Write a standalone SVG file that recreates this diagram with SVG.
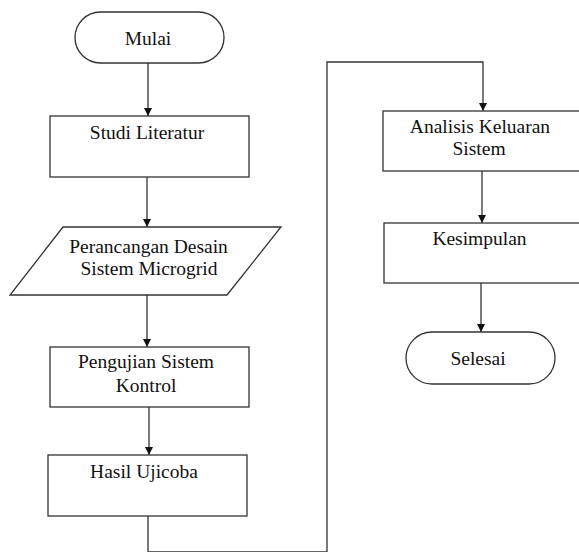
<svg xmlns="http://www.w3.org/2000/svg" width="579" height="552" viewBox="0 0 579 552">
<style>
.s{fill:#fff;stroke:#333;stroke-width:1.3}
.c{fill:none;stroke:#333;stroke-width:1.3}
.t{font-family:'Liberation Serif','Times New Roman',serif;font-size:19.5px;fill:#111;text-anchor:middle}
</style>
<defs>
<marker id="ah" viewBox="0 0 10 10" refX="10" refY="5" markerWidth="8" markerHeight="8" markerUnits="userSpaceOnUse" orient="auto">
<path d="M0,0 L10,5 L0,10 Z" fill="#111"/>
</marker>
</defs>
<rect width="579" height="552" fill="#fff"/>
<g id="connectors">
<path class="c" d="M148,63 V116" marker-end="url(#ah)"/>
<path class="c" d="M147,177 V227" marker-end="url(#ah)"/>
<path class="c" d="M147,295 V347" marker-end="url(#ah)"/>
<path class="c" d="M149,407 V455" marker-end="url(#ah)"/>
<path class="c" d="M148,516 V552 H327 V62 H483 V111" marker-end="url(#ah)"/>
<path class="c" d="M482,171 V223" marker-end="url(#ah)"/>
<path class="c" d="M481,283 V332" marker-end="url(#ah)"/>
</g>
<g id="mulai">
<rect class="s" x="75" y="12" width="149" height="51" rx="25.5" ry="25.5"/>
<text class="t" x="148" y="45">Mulai</text>
</g>
<g id="studi-literatur">
<rect class="s" x="50" y="116" width="199" height="61"/>
<text class="t" x="147" y="139">Studi Literatur</text>
</g>
<g id="perancangan">
<polygon class="s" points="63,227 281,227 227,295 10,295"/>
<text class="t" x="148.5" y="253">Perancangan Desain</text>
<text class="t" x="149" y="275">Sistem Microgrid</text>
</g>
<g id="pengujian">
<rect class="s" x="50" y="347" width="199" height="60"/>
<text class="t" x="146" y="368">Pengujian Sistem</text>
<text class="t" x="146" y="392">Kontrol</text>
</g>
<g id="hasil-ujicoba">
<rect class="s" x="48" y="455" width="199" height="61"/>
<text class="t" x="144" y="478">Hasil Ujicoba</text>
</g>
<g id="analisis">
<rect class="s" x="383" y="111" width="198" height="60"/>
<text class="t" x="480" y="133">Analisis Keluaran</text>
<text class="t" x="479" y="155">Sistem</text>
</g>
<g id="kesimpulan">
<rect class="s" x="384" y="223" width="197" height="60"/>
<text class="t" x="479.5" y="245">Kesimpulan</text>
</g>
<g id="selesai">
<rect class="s" x="406" y="332" width="149" height="52" rx="26" ry="26"/>
<text class="t" x="478" y="365">Selesai</text>
</g>
</svg>
